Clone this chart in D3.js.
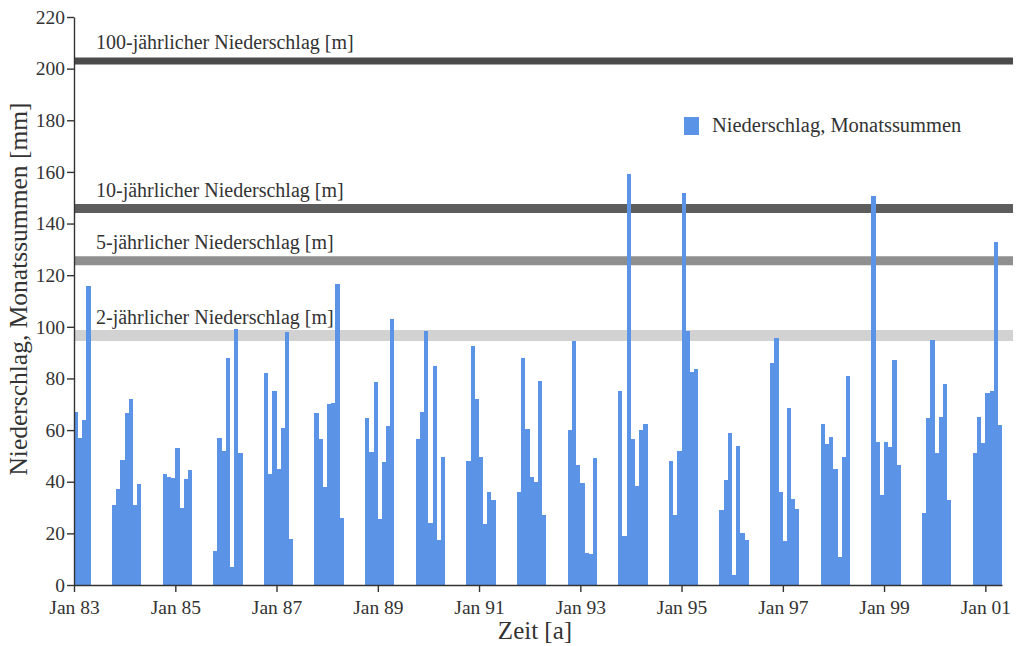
<!DOCTYPE html>
<html lang="de">
<head>
<meta charset="utf-8">
<script src="https://cdn.jsdelivr.net/npm/d3@7/dist/d3.min.js"></script>
<style>
  html, body { margin: 0; padding: 0; background: #fff; }
  svg { display: block; }
  text { font-family: "Liberation Serif", "DejaVu Serif", serif; fill: #333; }
</style>
</head>
<body>
<svg id="chart" width="1018" height="646"></svg>
<script>
// First month of each block of monthly totals (winter half-years Oct–Apr)
const seasonStart = [
  "1983-01", "1983-10", "1984-10", "1985-10", "1986-10", "1987-10",
  "1988-10", "1989-10", "1990-10", "1991-10", "1992-10", "1993-10",
  "1994-10", "1995-10", "1996-10", "1997-10", "1998-10", "1999-10", "2000-10"
];

// Monthly precipitation totals [mm], one list per block, in month order
const monthlyTotals = [
  [67, 57, 64, 116],
  [31, 37, 48.5, 66.5, 72, 31, 39],
  [43, 42, 41.5, 53, 30, 41, 44.5],
  [13, 57, 52, 88, 7, 99, 51],
  [82, 43, 75, 45, 61, 98, 18],
  [66.5, 56.5, 38, 70, 70.5, 116.5, 26],
  [64.5, 51.5, 78.5, 25.5, 47.5, 61.5, 103],
  [56.5, 67, 98.5, 24, 85, 17.5, 49.5],
  [48, 92.5, 72, 49.5, 23.5, 36, 33],
  [36, 88, 60.5, 42, 40, 79, 27],
  [60, 94.5, 46.5, 39.5, 12.5, 12, 49],
  [75, 19, 159, 56.5, 38.5, 60, 62.5],
  [48, 27, 52, 152, 98.5, 82.5, 83.5],
  [29, 40.5, 59, 4, 54, 20, 17.5],
  [86, 95.5, 36, 17, 68.5, 33.5, 29.5],
  [62.5, 54.5, 57.5, 45, 11, 49.5, 81],
  [150.5, 55.5, 35, 55.5, 53.5, 87, 46.5],
  [28, 64.5, 95, 51, 65, 78, 33],
  [51, 65, 55, 74.5, 75, 133, 62]
];

// Return-period precipitation levels [mm]
const returnPeriodLabels = [
  "100-jährlicher Niederschlag [m]",
  "10-jährlicher Niederschlag [m]",
  "5-jährlicher Niederschlag [m]",
  "2-jährlicher Niederschlag [m]"
];
const returnPeriodValues = [203, 145.8, 125.6, 96.6];

// Axis ticks
const xTickYears = [1983, 1985, 1987, 1989, 1991, 1993, 1995, 1997, 1999, 2001];
const yTickValues = [0, 20, 40, 60, 80, 100, 120, 140, 160, 180, 200, 220];

const seriesName = "Niederschlag, Monatssummen";
const xTitle = "Zeit [a]";
const yTitle = "Niederschlag, Monatssummen [mm]";

// ---- build rows: one per month ----
const parseMonth = d3.utcParse("%Y-%m");
const rows = [];
seasonStart.forEach((s, i) => {
  const start = parseMonth(s);
  monthlyTotals[i].forEach((v, k) => {
    const date = d3.utcMonth.offset(start, k);
    rows.push({ date, end: d3.utcMonth.offset(date, 1), value: v });
  });
});

const svg = d3.select("#chart");

const x = d3.scaleUtc()
  .domain([Date.UTC(1983, 0, 1), Date.UTC(2001, 4, 1)])
  .range([74, 1002]);

const y = d3.scaleLinear()
  .domain([0, 220])
  .range([585, 17]);

// Return-period bands
const bandColor = ["#4b4b4b", "#5d5d5d", "#8f8f8f", "#d2d2d2"];
const bandWidth = [7, 9, 9, 11];

svg.append("g")
  .selectAll("line")
  .data(returnPeriodValues)
  .join("line")
  .attr("x1", x.range()[0])
  .attr("x2", 1013)
  .attr("y1", d => y(d))
  .attr("y2", d => y(d))
  .attr("stroke", (d, i) => bandColor[i])
  .attr("stroke-width", (d, i) => bandWidth[i]);

svg.append("g")
  .selectAll("text")
  .data(returnPeriodValues)
  .join("text")
  .attr("x", 96)
  .attr("y", d => y(d) - 12)
  .attr("font-size", 20)
  .text((d, i) => returnPeriodLabels[i]);

// Monthly bars
svg.append("g")
  .attr("fill", "#5b93e6")
  .attr("shape-rendering", "crispEdges")
  .selectAll("rect")
  .data(rows)
  .join("rect")
  .attr("x", d => x(d.date))
  .attr("width", d => x(d.end) - x(d.date))
  .attr("y", d => y(d.value))
  .attr("height", d => y(0) - y(d.value));

// Axes
const xAxis = d3.axisBottom(x)
  .tickValues(xTickYears.map(yr => new Date(Date.UTC(yr, 0, 1))))
  .tickFormat(d3.utcFormat("%b %y"))
  .tickSize(7)
  .tickSizeOuter(0)
  .tickPadding(8);

const yAxis = d3.axisLeft(y)
  .tickValues(yTickValues)
  .tickSize(7)
  .tickSizeOuter(0)
  .tickPadding(2);

const gx = svg.append("g")
  .attr("transform", `translate(0,${y(0)})`)
  .call(xAxis);

const gy = svg.append("g")
  .attr("transform", `translate(${x.range()[0]},0)`)
  .call(yAxis);

[gx, gy].forEach(g => {
  g.attr("font-family", null).attr("font-size", null);
  g.selectAll(".domain").attr("stroke", "#333").attr("stroke-width", 1.4);
  g.selectAll(".tick line").attr("stroke", "#333").attr("stroke-width", 1.4);
  g.selectAll(".tick text").attr("font-size", 19.5).attr("fill", "#333");
});

// Axis titles
svg.append("text")
  .attr("x", 535)
  .attr("y", 639)
  .attr("text-anchor", "middle")
  .attr("font-size", 25)
  .text(xTitle);

svg.append("text")
  .attr("transform", "translate(27,289) rotate(-90)")
  .attr("text-anchor", "middle")
  .attr("font-size", 25.5)
  .text(yTitle);

// Legend
const legend = svg.append("g").attr("transform", "translate(684,117)");
legend.append("rect")
  .attr("width", 15)
  .attr("height", 18)
  .attr("fill", "#5b93e6");
legend.append("text")
  .attr("x", 28)
  .attr("y", 15)
  .attr("font-size", 20.5)
  .text(seriesName);
</script>
</body>
</html>
